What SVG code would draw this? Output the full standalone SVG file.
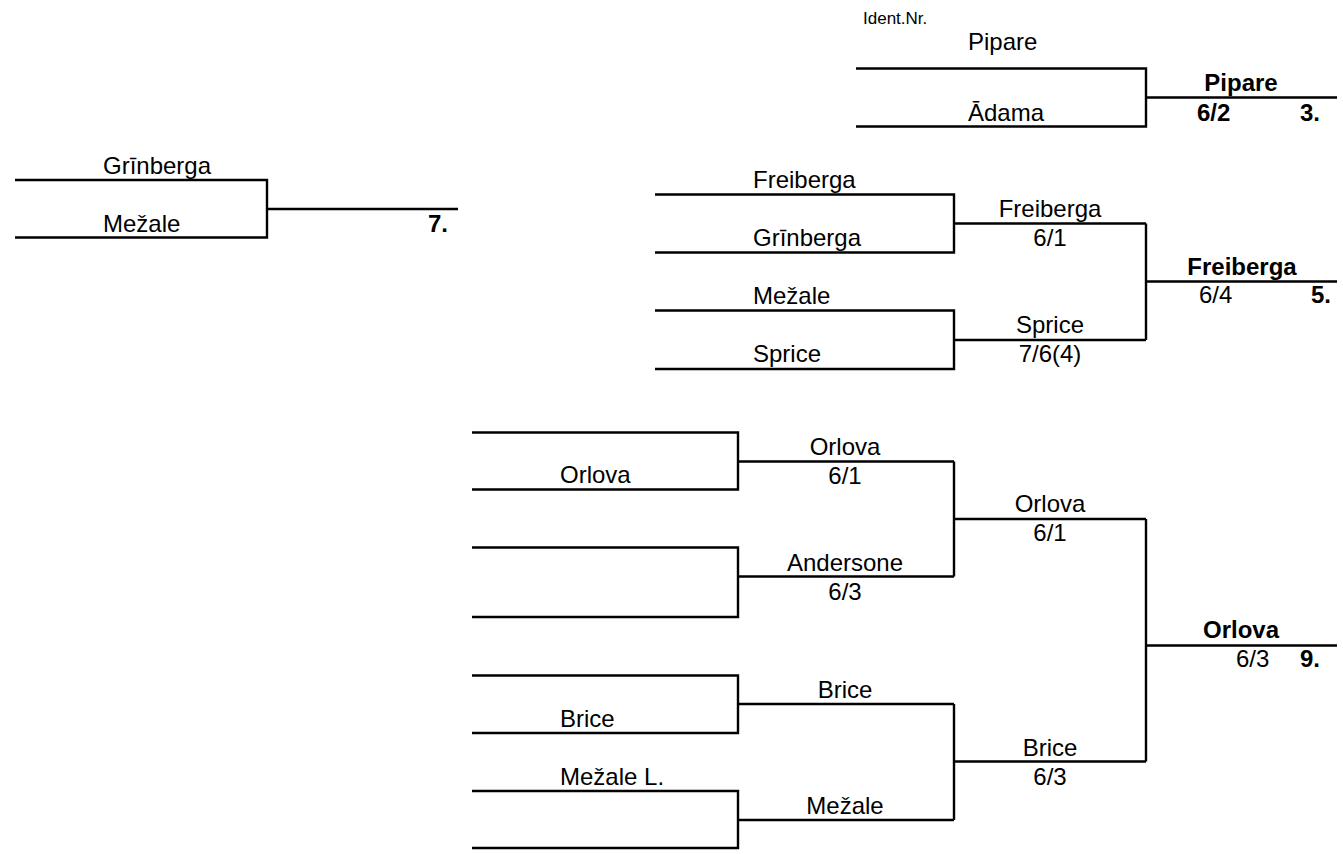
<svg xmlns="http://www.w3.org/2000/svg" width="1343" height="854" viewBox="0 0 1343 854">
<style>
text{font-family:"Liberation Sans",Arial,sans-serif;font-size:24px;fill:#000}
.s{font-size:17px}
.b{font-weight:bold}
.m{text-anchor:middle}
#connectors path{fill:none;stroke:#000;stroke-width:2.4}
</style>
<rect width="1343" height="854" fill="#fff"/>
<g id="connectors">
<path d="M856 68.5H1146V126.5H856M1146 97.5H1337"/>
<path d="M15 180H267V237.5H15M267 209H458"/>
<path d="M655 194.5H954V252.5H655M954 223.5H1146M655 310.5H954V369H655M954 340H1146M1146 223.5V340M1146 281.5H1337"/>
<path d="M472 432.5H738V489.5H472M738 461.5H954M472 547.5H738V617H472M738 576.5H954M954 461.5V576.5M954 519H1146"/>
<path d="M472 675.5H738V733H472M738 704H954M472 791H738V848H472M738 820H954M954 704V820M954 761.5H1146"/>
<path d="M1146 519V761.5M1146 645.5H1337"/>
</g>
<g id="header"><text class="s" x="863" y="24">Ident.Nr.</text></g>
<g id="m3">
<text x="968" y="50">Pipare</text>
<text x="968" y="120.5">Ādama</text>
<text class="b m" x="1241" y="90.5">Pipare</text>
<text class="b" x="1197" y="121">6/2</text>
<text class="b" x="1300" y="121">3.</text>
</g>
<g id="m7">
<text x="103" y="174">Grīnberga</text>
<text x="103" y="232">Mežale</text>
<text class="b" x="428" y="232">7.</text>
</g>
<g id="m5">
<text x="753" y="188">Freiberga</text>
<text x="753" y="246">Grīnberga</text>
<text class="m" x="1050" y="217">Freiberga</text>
<text class="m" x="1050" y="245.5">6/1</text>
<text x="753" y="304">Mežale</text>
<text x="753" y="362">Sprice</text>
<text class="m" x="1050" y="333">Sprice</text>
<text class="m" x="1050" y="362">7/6(4)</text>
<text class="b m" x="1242" y="275">Freiberga</text>
<text x="1199" y="303">6/4</text>
<text class="b" x="1311" y="303">5.</text>
</g>
<g id="m9">
<text x="560" y="483">Orlova</text>
<text class="m" x="845" y="455">Orlova</text>
<text class="m" x="845" y="484">6/1</text>
<text class="m" x="845" y="571">Andersone</text>
<text class="m" x="845" y="600">6/3</text>
<text class="m" x="1050" y="512">Orlova</text>
<text class="m" x="1050" y="541">6/1</text>
<text x="560" y="727">Brice</text>
<text class="m" x="845" y="698">Brice</text>
<text x="560" y="785">Mežale L.</text>
<text class="m" x="845" y="814">Mežale</text>
<text class="m" x="1050" y="756">Brice</text>
<text class="m" x="1050" y="785">6/3</text>
<text class="b m" x="1241" y="638">Orlova</text>
<text x="1236" y="667">6/3</text>
<text class="b" x="1300" y="667">9.</text>
</g>
</svg>
